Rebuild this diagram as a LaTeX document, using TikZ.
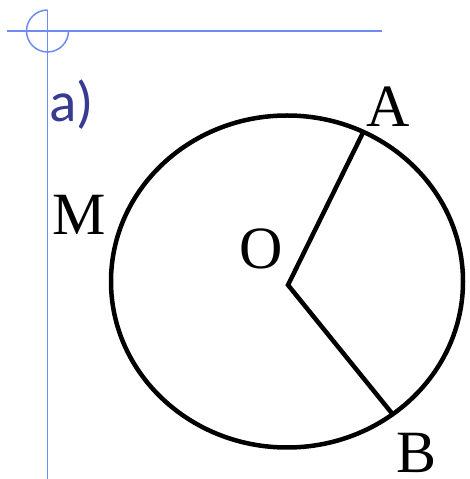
\documentclass[tikz,border=0pt]{standalone}
\usepackage{fontspec}
\setmainfont{Liberation Serif}
\newfontfamily\slidefont{Carlito}
\usetikzlibrary{calc}
\definecolor{guide}{RGB}{110,140,240}
\definecolor{slate}{RGB}{55,60,145}
\tikzset{
  guide line/.style={draw=guide,line width=1.5pt},
  figure line/.style={draw=black,line width=4.5pt},
  letter/.style={font=\fontsize{60}{62}\selectfont,inner sep=0pt},
  part label/.style={font=\slidefont\fontsize{57}{60}\selectfont,text=slate,
    inner sep=0pt,anchor=base west},
}
\begin{document}
\begin{tikzpicture}[x=1pt,y=1pt]
  \useasboundingbox (0,0) rectangle (469,479);
  % slide corner mark
  \coordinate (mark) at (47.5,448);
  \coordinate (mark top) at (47.5,469);
  \coordinate (mark foot) at (47.5,0);
  \coordinate (rule start) at (7,448);
  \coordinate (rule end) at (382,448);
  \draw[guide line] (mark top) arc (90:360:21);
  \draw[guide line] (mark top) -- (mark foot);
  \draw[guide line] (rule start) -- (rule end);
  \node[part label] (part) at (49,357) {a)};
  % circle with two radii
  \coordinate (E) at (287,197.5);
  \draw[figure line] (E) ellipse [x radius=176,y radius=166];
  \coordinate (O) at (288,194);
  \path (E) ++(64.3:176pt and 166pt) coordinate (A);
  \path (E) ++(-53.1:176pt and 166pt) coordinate (B);
  \draw[figure line] (A) -- (O) -- (B);
  \node[letter] (lblA) at (388,372) {A};
  \node[letter] (lblB) at (417,26) {B};
  \node[letter] (lblM) at (79,264) {M};
  \node[letter] (lblO) at (261,230) {O};
\end{tikzpicture}
\end{document}
